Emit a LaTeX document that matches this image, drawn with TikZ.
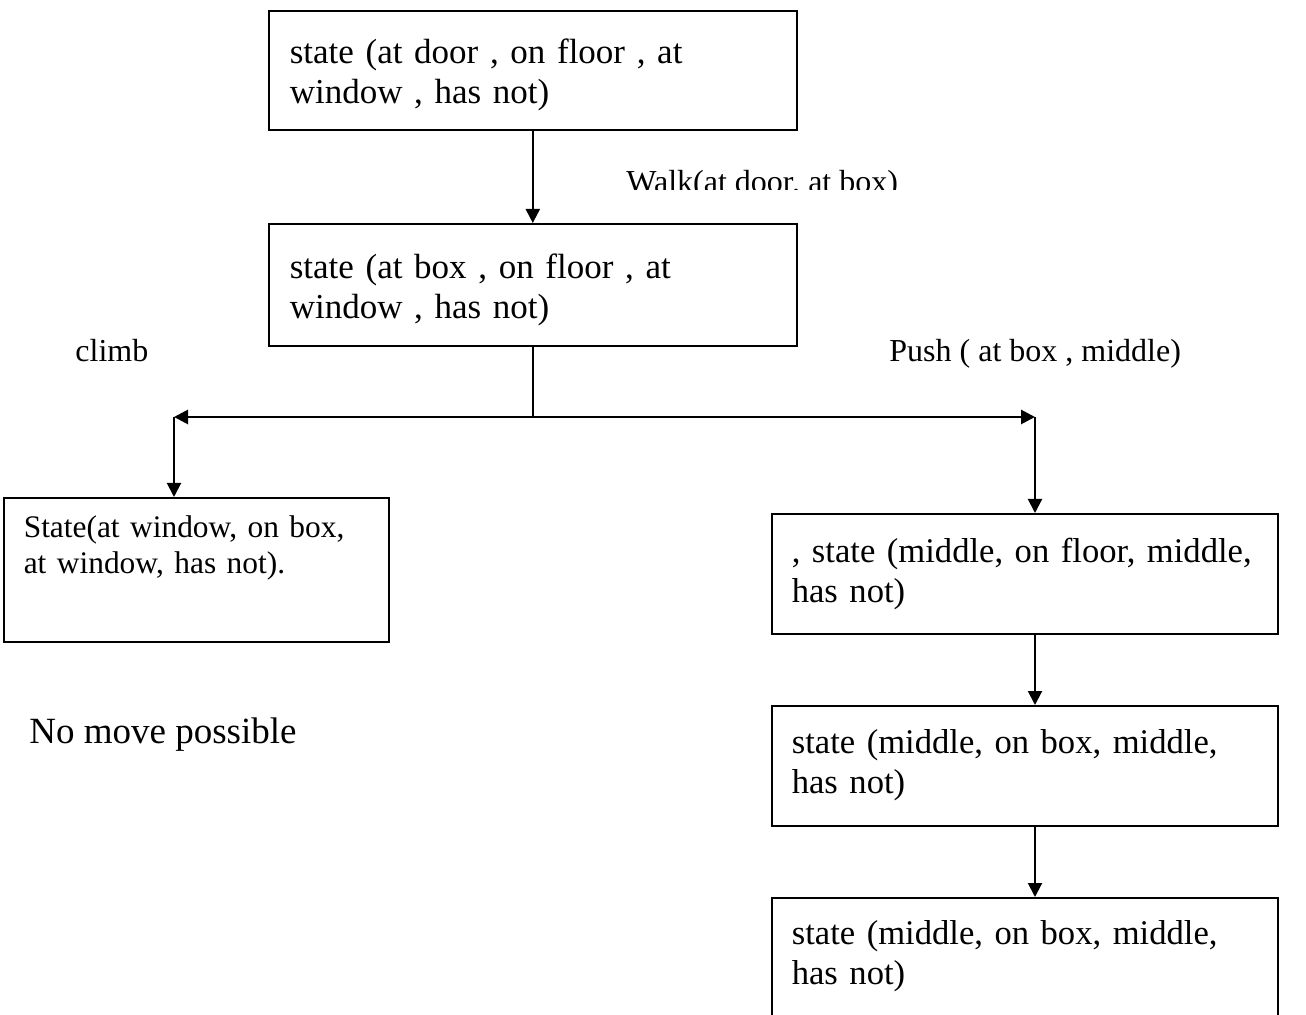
\documentclass[tikz,border=0pt]{standalone}
\usepackage{fontspec}
\setmainfont{Liberation Serif}
\usetikzlibrary{arrows.meta}

\begin{document}
\begin{tikzpicture}[x=0.5pt,y=-0.5pt,
  statebox/.style={draw,line width=0.8pt,anchor=north west,align=left,
    inner xsep=10.5pt,inner ysep=0pt,font=\fontsize{17.5}{20}\selectfont},
  rightbox/.style={statebox,inner xsep=10pt,text width=233pt,font=\fontsize{17.3}{20}\selectfont},
  smallbox/.style={statebox,inner xsep=10pt,font=\fontsize{15.7}{18}\selectfont},
  lbl/.style={anchor=base west,inner sep=0pt,font=\fontsize{16}{19}\selectfont},
  arr/.style={-{Triangle[length=7pt,width=7pt]},line width=1pt}]
  \useasboundingbox (0,0) rectangle (1306,1015);

  \node (door) [statebox,text width=243pt,text height=26.5pt,text depth=33pt] at (268,10)
    {state (at door , on floor , at\\window , has not)};
  \node (box) [statebox,text width=243pt,text height=27.5pt,text depth=33.5pt] at (268,223)
    {state (at box , on floor , at\\window , has not)};
  \node (win) [smallbox,text width=172.5pt,text height=20pt,text depth=52pt] at (3,497)
    {State(at window, on box,\\at window, has not).};
  \node (mid) [rightbox,text height=24.5pt,text depth=35.5pt] at (771,513)
    {, state (middle, on floor, middle,\\has not)};
  \node (onbox) [rightbox,text height=24pt,text depth=36pt] at (771,705)
    {state (middle, on box, middle,\\has not)};
  \node (onboxb) [rightbox,text height=23.5pt,text depth=39.5pt] at (771,897)
    {state (middle, on box, middle,\\has not)};

  \begin{scope}
    \clip (600,150) rectangle (930,190);
    \node (walk) [lbl] at (626,193) {Walk(at door, at box)};
  \end{scope}
  \node (climb) [lbl] at (75,362) {climb};
  \node (push) [lbl] at (889,362) {Push ( at box , middle)};
  \node (nomove) [lbl,font=\fontsize{18.5}{22}\selectfont] at (29,743) {No move possible};

  \coordinate (bl) at (174,417);
  \coordinate (br) at (1035,417);
  \path (box.south |- bl) coordinate (jn);

  \draw[arr] (door) -- (box);
  \draw[line width=1pt] (box.south) -- (jn);
  \draw[arr,line width=1.4pt] (jn) -- (bl);
  \draw[arr,line width=1.4pt] (jn) -- (br);
  \draw[arr] (bl) -- (bl |- win.north);
  \draw[arr] (br) -- (br |- mid.north);
  \draw[arr] (br |- mid.south) -- (br |- onbox.north);
  \draw[arr] (br |- onbox.south) -- (br |- onboxb.north);
\end{tikzpicture}
\end{document}
